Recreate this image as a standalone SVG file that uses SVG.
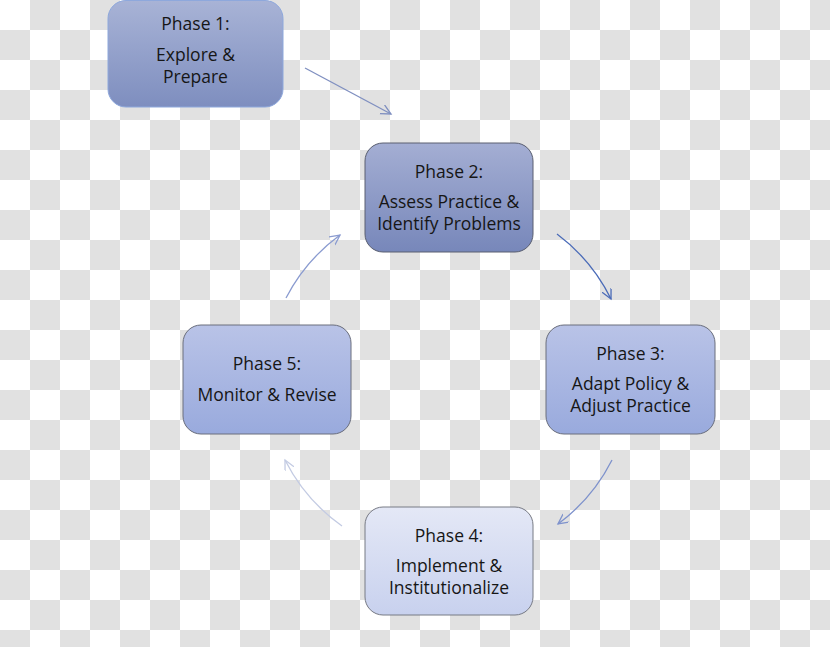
<svg xmlns="http://www.w3.org/2000/svg" width="830" height="647" viewBox="0 0 830 647">
<style>
.t{font-family:"Open Sans","Liberation Sans",sans-serif;font-size:17.5px;fill:#161616;text-anchor:middle}
.c{fill:none;stroke-width:1.3}
</style>
<defs>
<pattern id="chk" x="0" y="0" width="60" height="60" patternUnits="userSpaceOnUse">
<rect width="60" height="60" fill="#ffffff"/>
<rect x="30" y="0" width="30" height="30" fill="#e1e1e1"/>
<rect x="0" y="30" width="30" height="30" fill="#e1e1e1"/>
</pattern>
<linearGradient id="g1" x1="0" y1="0" x2="0" y2="1"><stop offset="0" stop-color="#a8b3d6"/><stop offset="1" stop-color="#7e8ebf"/></linearGradient>
<linearGradient id="g2" x1="0" y1="0" x2="0" y2="1"><stop offset="0" stop-color="#a4aed3"/><stop offset="1" stop-color="#7787ba"/></linearGradient>
<linearGradient id="g3" x1="0" y1="0" x2="0" y2="1"><stop offset="0" stop-color="#b9c3e7"/><stop offset="1" stop-color="#99aadd"/></linearGradient>
<linearGradient id="g4" x1="0" y1="0" x2="0" y2="1"><stop offset="0" stop-color="#e4e8f6"/><stop offset="1" stop-color="#c8d1ee"/></linearGradient>
<marker id="m1" markerWidth="12" markerHeight="12" refX="10" refY="5" orient="auto" markerUnits="userSpaceOnUse" viewBox="0 0 12 12"><path d="M0,0 L10,5 L0,10" fill="none" stroke="#7f8fc0" stroke-width="1.3"/></marker>
<marker id="m2" markerWidth="12" markerHeight="12" refX="10" refY="5" orient="auto" markerUnits="userSpaceOnUse" viewBox="0 0 12 12"><path d="M0,0 L10,5 L0,10" fill="none" stroke="#4a6bb8" stroke-width="1.3"/></marker>
<marker id="m3" markerWidth="12" markerHeight="12" refX="10" refY="5" orient="auto" markerUnits="userSpaceOnUse" viewBox="0 0 12 12"><path d="M0,0 L10,5 L0,10" fill="none" stroke="#7e92cc" stroke-width="1.3"/></marker>
<marker id="m4" markerWidth="12" markerHeight="12" refX="10" refY="5" orient="auto" markerUnits="userSpaceOnUse" viewBox="0 0 12 12"><path d="M0,0 L10,5 L0,10" fill="none" stroke="#c3cbe3" stroke-width="1.3"/></marker>
<marker id="m5" markerWidth="12" markerHeight="12" refX="10" refY="5" orient="auto" markerUnits="userSpaceOnUse" viewBox="0 0 12 12"><path d="M0,0 L10,5 L0,10" fill="none" stroke="#8a9bd0" stroke-width="1.3"/></marker>
</defs>
<rect width="830" height="647" fill="url(#chk)"/>
<g id="connectors">
<path class="c" d="M305,68 L391,114" stroke="#7f8fc0" marker-end="url(#m1)"/>
<path class="c" d="M557,234 A181,181 0 0 1 611,299" stroke="#4a6bb8" marker-end="url(#m2)"/>
<path class="c" d="M612,460 A181,181 0 0 1 558,524" stroke="#7e92cc" marker-end="url(#m3)"/>
<path class="c" d="M342,526 A181,181 0 0 1 285,460" stroke="#c3cbe3" marker-end="url(#m4)"/>
<path class="c" d="M286,298 A181,181 0 0 1 340,235" stroke="#8a9bd0" marker-end="url(#m5)"/>
</g>
<g id="phase1">
<rect x="108" y="0.5" width="175" height="106.5" rx="18" fill="url(#g1)" stroke="#8ea8dc" stroke-width="1"/>
<text class="t" x="195.5" y="30">Phase 1:</text>
<text class="t" x="195.5" y="61">Explore &amp;</text>
<text class="t" x="195.5" y="83">Prepare</text>
</g>
<g id="phase2">
<rect x="365" y="143" width="168" height="109" rx="18" fill="url(#g2)" stroke="#5a5f70" stroke-width="1"/>
<text class="t" x="449" y="178">Phase 2:</text>
<text class="t" x="449" y="208">Assess Practice &amp;</text>
<text class="t" x="449" y="230">Identify Problems</text>
</g>
<g id="phase3">
<rect x="546" y="325" width="169" height="109" rx="18" fill="url(#g3)" stroke="#6a6e7c" stroke-width="1"/>
<text class="t" x="630.5" y="360">Phase 3:</text>
<text class="t" x="630.5" y="390">Adapt Policy &amp;</text>
<text class="t" x="630.5" y="412">Adjust Practice</text>
</g>
<g id="phase4">
<rect x="365" y="507" width="168" height="108" rx="18" fill="url(#g4)" stroke="#777a84" stroke-width="1"/>
<text class="t" x="449" y="542">Phase 4:</text>
<text class="t" x="449" y="572">Implement &amp;</text>
<text class="t" x="449" y="594">Institutionalize</text>
</g>
<g id="phase5">
<rect x="183" y="325" width="168" height="109" rx="18" fill="url(#g3)" stroke="#6a6e7c" stroke-width="1"/>
<text class="t" x="267" y="370">Phase 5:</text>
<text class="t" x="267" y="401">Monitor &amp; Revise</text>
</g>
</svg>
